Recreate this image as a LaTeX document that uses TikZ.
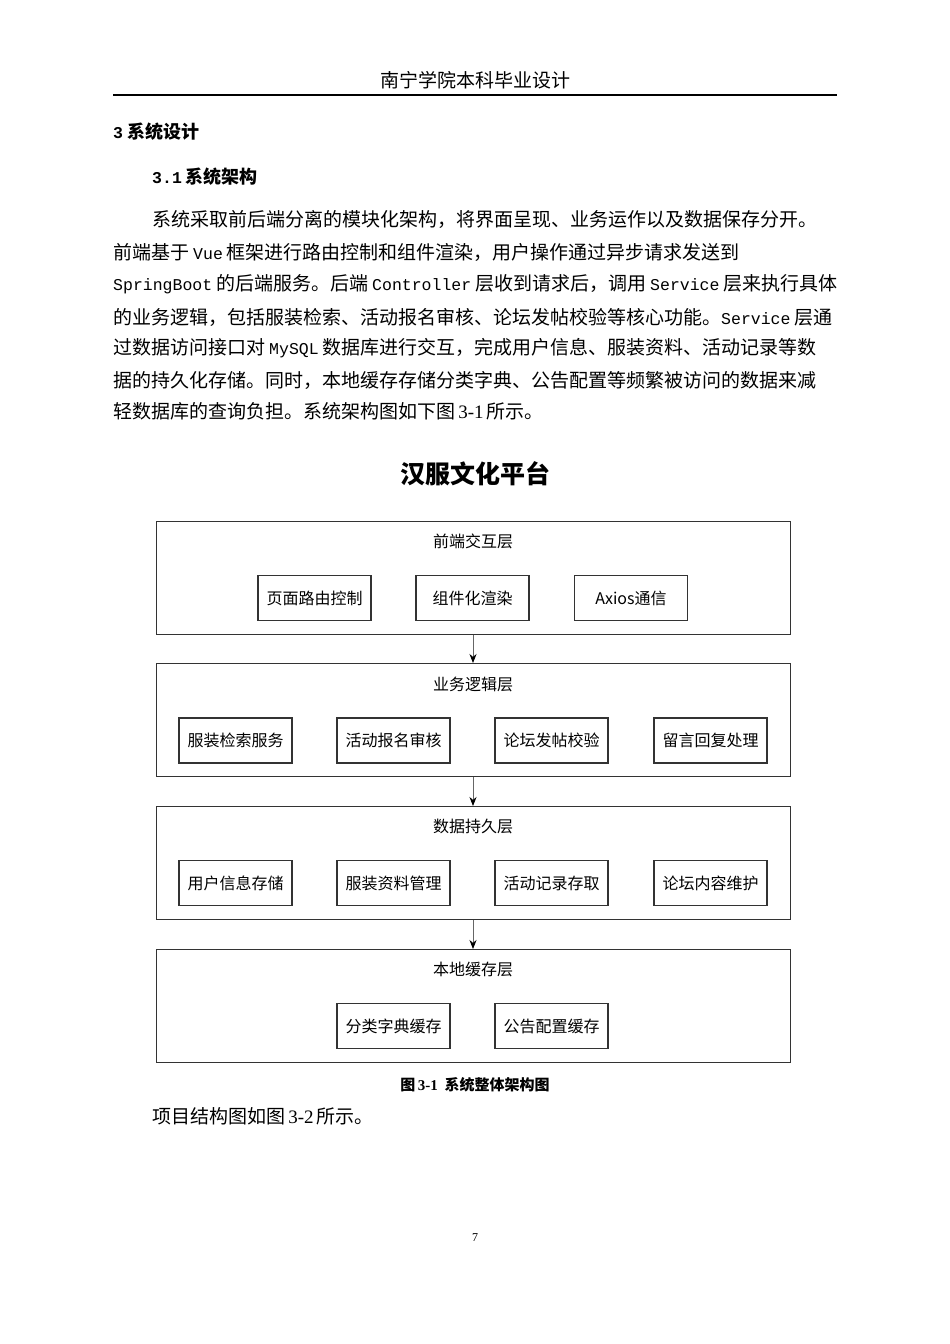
\documentclass[tikz,border=0pt]{standalone}
\usepackage{fontspec}
\usetikzlibrary{arrows.meta}
\setmainfont{Liberation Serif}
\newfontfamily\cjk{Noto Sans CJK SC}
\newfontfamily\mono{Liberation Mono}
\newcommand{\M}[1]{{\mono\fontsize{16.5}{20}\selectfont #1}}
\newcommand{\gp}{\hspace{4pt}}
\begin{document}
\begin{tikzpicture}[x=1pt,y=-1pt,
  txt/.style={anchor=west,inner sep=0pt,font=\cjk\fontsize{19}{22}\selectfont},
  layer/.style={draw=black!80,line width=1.3pt,fill=white},
  item/.style={draw=black!80,line width=1.2pt,minimum width=113pt,minimum height=45pt,inner sep=0pt,font=\cjk\fontsize{16}{18}\selectfont},
  ltitle/.style={inner sep=0pt,font=\cjk\fontsize{16}{18}\selectfont},
  arr/.style={draw=black!60,line width=0.8pt,-{Stealth[length=9pt,width=7pt,black]}}]
\useasboundingbox[fill=white] (0,0) rectangle (950,1344);
\node[inner sep=0pt,font=\cjk\fontsize{19}{22}\selectfont] (hdr) at (475,80) {南宁学院本科毕业设计};
\draw[line width=1.5pt] (113,95) -- (837,95);
\node[txt,font=\cjk\bfseries\fontsize{18}{22}\selectfont] (h1) at (113,132) {\M{3}\gp 系统设计};
\node[txt,font=\cjk\bfseries\fontsize{18}{22}\selectfont] (h2) at (152,177) {\M{3.1}\gp 系统架构};
\node[txt] (p1) at (152,219) {系统采取前后端分离的模块化架构，将界面呈现、业务运作以及数据保存分开。};
\node[txt] (p2) at (113,252) {前端基于\gp\M{Vue}\gp 框架进行路由控制和组件渲染，用户操作通过异步请求发送到};
\node[txt] (p3) at (113,284) {\M{SpringBoot}\gp 的后端服务。后端\gp\M{Controller}\gp 层收到请求后，调用\gp\M{Service}\gp 层来执行具体};
\node[txt] (p4) at (113,317) {的业务逻辑，包括服装检索、活动报名审核、论坛发帖校验等核心功能。\M{Service}\gp 层通};
\node[txt] (p5) at (113,348) {过数据访问接口对\gp\M{MySQL}\gp 数据库进行交互，完成用户信息、服装资料、活动记录等数};
\node[txt] (p6) at (113,380) {据的持久化存储。同时，本地缓存存储分类字典、公告配置等频繁被访问的数据来减};
\node[txt] (p7) at (113,411) {轻数据库的查询负担。系统架构图如下图\,{\rmfamily 3-1}\,所示。};
\node[inner sep=0pt,font=\cjk\bfseries\fontsize{25}{28}\selectfont] (title) at (475,474) {汉服文化平台};
% layers
\node[layer,minimum width=634pt,minimum height=113pt,anchor=north west] (L1) at (156,521) {};
\node[layer,minimum width=634pt,minimum height=113pt,anchor=north west] (L2) at (156,663) {};
\node[layer,minimum width=634pt,minimum height=113pt,anchor=north west] (L3) at (156,806) {};
\node[layer,minimum width=634pt,minimum height=113pt,anchor=north west] (L4) at (156,949) {};
\node[ltitle] (t1) at (473,541) {前端交互层};
\node[ltitle] (t2) at (473,684) {业务逻辑层};
\node[ltitle] (t3) at (473,826) {数据持久层};
\node[ltitle] (t4) at (473,969) {本地缓存层};
\node[item] (a1) at (314.5,598) {页面路由控制};
\node[item] (a2) at (472.5,598) {组件化渲染};
\node[item] (a3) at (631,598) {Axios通信};
\node[item] (b1) at (235.5,740.5) {服装检索服务};
\node[item] (b2) at (393.5,740.5) {活动报名审核};
\node[item] (b3) at (551.5,740.5) {论坛发帖校验};
\node[item] (b4) at (710.5,740.5) {留言回复处理};
\node[item] (c1) at (235.5,883) {用户信息存储};
\node[item] (c2) at (393.5,883) {服装资料管理};
\node[item] (c3) at (551.5,883) {活动记录存取};
\node[item] (c4) at (710.5,883) {论坛内容维护};
\node[item] (d1) at (393.5,1026) {分类字典缓存};
\node[item] (d2) at (551.5,1026) {公告配置缓存};
\draw[arr] (L1.south -| t1) -- (L2.north -| t1);
\draw[arr] (L2.south -| t1) -- (L3.north -| t1);
\draw[arr] (L3.south -| t1) -- (L4.north -| t1);
\node[inner sep=0pt,font=\cjk\bfseries\fontsize{15}{18}\selectfont] (cap) at (475,1085) {图\,{\rmfamily\bfseries 3-1}\ \ 系统整体架构图};
\node[txt] (p8) at (152,1116) {项目结构图如图\,{\rmfamily 3-2}\,所示。};
\node[inner sep=0pt,font=\rmfamily\fontsize{12}{14}\selectfont] (pg) at (475,1238) {7};
\end{tikzpicture}
\end{document}
